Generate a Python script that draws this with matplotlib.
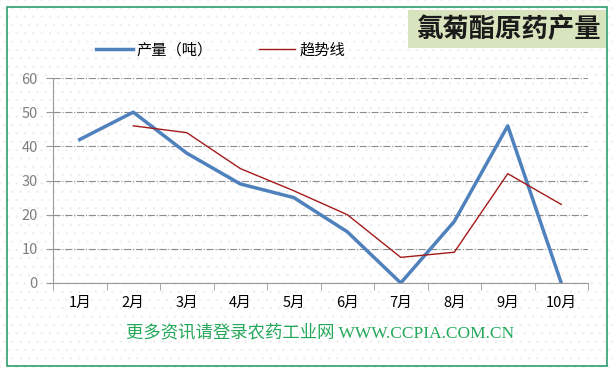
import matplotlib.pyplot as plt
from matplotlib.patches import Rectangle

plt.rcParams['font.family'] = ['Noto Sans CJK SC', 'DejaVu Sans']
plt.rcParams['hatch.linewidth'] = 0.4

# 数据
months = ['1月', '2月', '3月', '4月', '5月', '6月', '7月', '8月', '9月', '10月']
output = [42, 50, 38, 29, 25, 15, 0, 18, 46, 0]
trend_x = [1, 2, 3, 4, 5, 6, 7, 8, 9]
trend = [46, 44, 33.5, 27, 20, 7.5, 9, 32, 23]

fig = plt.figure(figsize=(6.13, 3.71), dpi=100)

# 背景点阵 + 绿色边框
bg = Rectangle((0, 0), 1, 1, transform=fig.transFigure, facecolor='white',
               edgecolor='#ececec', hatch='..', linewidth=0, zorder=-10)
fig.patches.append(bg)
border = Rectangle((7 / 613, 1 - 366 / 371), 600 / 613, 359 / 371, transform=fig.transFigure,
                   facecolor='none', edgecolor='#2e9e6e', linewidth=1.2)
fig.patches.append(border)

ax = fig.add_axes([53 / 613, 1 - 283 / 371, 535 / 613, 205 / 371])
ax.patch.set_alpha(0)
x = list(range(len(months)))
ax.plot(x, output, color='#4f81bd', linewidth=2.5, label='产量（吨）', zorder=3)
ax.plot(trend_x, trend, color='#a31a1a', linewidth=1.0, label='趋势线', zorder=4)

ax.set_xlim(-0.5, 9.5)
ax.set_ylim(0, 60)
ax.set_yticks(range(0, 61, 10))
ax.set_xticks(x)
ax.set_xticklabels(months)
ax.set_xticks([i - 0.5 for i in range(11)], minor=True)
ax.tick_params(axis='x', which='major', length=0, labelsize=10.5, labelcolor='black', pad=9)
ax.tick_params(axis='x', which='minor', length=5, color='#999999', direction='out')
ax.tick_params(axis='y', length=5, color='#999999', labelsize=10.5, labelcolor='#7f7f7f', pad=6)
ax.grid(axis='y', color='#8c8c8c', linestyle='-.', linewidth=0.8)
for s in ['top', 'right']:
    ax.spines[s].set_visible(False)
for s in ['left', 'bottom']:
    ax.spines[s].set_color('#999999')

ax.legend(loc='lower left', bbox_to_anchor=(0.075, 1.08), ncol=2, frameon=False,
          fontsize=11, handlelength=2.4, columnspacing=3.0, handletextpad=0.25,
          borderaxespad=0, borderpad=0.2)

# 标题框
fig.patches.append(Rectangle((408 / 613, 1 - 48 / 371), 198 / 613, 38 / 371,
                             transform=fig.transFigure, facecolor='#d7e4bd',
                             edgecolor='none'))
fig.text(509 / 613, 1 - 29 / 371, '氯菊酯原药产量', ha='center', va='center',
         fontsize=19, fontweight='bold', color='#1a1a1a')

fig.text(320 / 613, 1 - 333 / 371, '更多资讯请登录农药工业网 WWW.CCPIA.COM.CN',
         ha='center', va='center', fontsize=12.5, color='#23a85a',
         family=['Liberation Serif', 'Noto Sans CJK SC'])

fig.savefig('out.png', dpi=100)
